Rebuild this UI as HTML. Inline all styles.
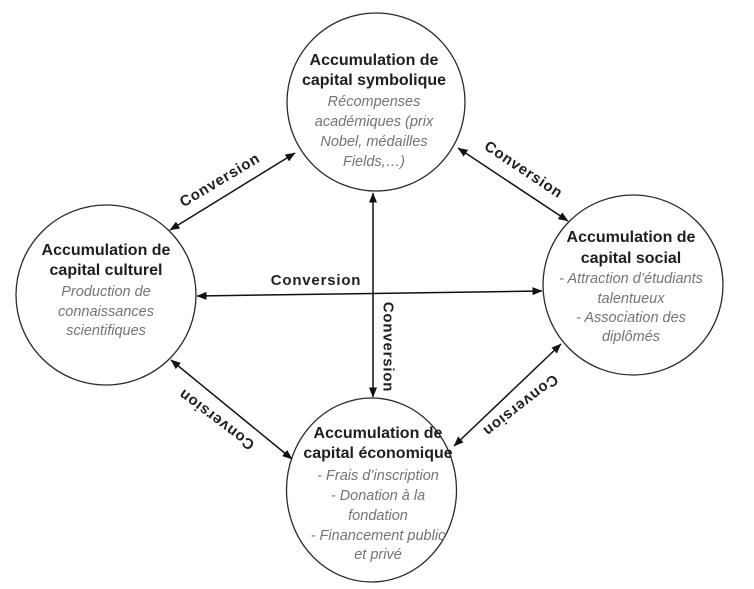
<!DOCTYPE html>
<html>
<head>
<meta charset="utf-8">
<style>
  html, body { margin: 0; padding: 0; background: #ffffff; }
  body { width: 754px; height: 589px; overflow: hidden; }
  svg { display: block; }
  .t { font-family: "Liberation Sans", Arial, sans-serif; font-weight: bold; font-size: 16px; fill: #1e1e1e; }
  .i { font-family: "Liberation Sans", Arial, sans-serif; font-style: italic; font-size: 14.5px; fill: #747474; }
  .c { font-family: "Liberation Sans", Arial, sans-serif; font-weight: bold; font-size: 15px; fill: #1f1f1f; letter-spacing: 0.8px; }
</style>
</head>
<body>
<svg width="754" height="589" viewBox="0 0 754 589" xmlns="http://www.w3.org/2000/svg">
  <defs>
    <marker id="ah" viewBox="0 0 10 8" refX="9.5" refY="4" markerWidth="10" markerHeight="8" markerUnits="userSpaceOnUse" orient="auto-start-reverse">
      <path d="M0,0 L10,4 L0,8 Z" fill="#111"/>
    </marker>
  </defs>

  <!-- circles -->
  <circle cx="376" cy="102" r="89" fill="none" stroke="#2a2a2a" stroke-width="1.3"/>
  <circle cx="106" cy="295" r="90" fill="none" stroke="#2a2a2a" stroke-width="1.3"/>
  <circle cx="633" cy="285" r="90" fill="none" stroke="#2a2a2a" stroke-width="1.3"/>
  <ellipse cx="371.5" cy="490" rx="85" ry="92" fill="none" stroke="#2a2a2a" stroke-width="1.3"/>

  <!-- connectors -->
  <line x1="170" y1="230" x2="295" y2="153" stroke="#111" stroke-width="1.5" marker-start="url(#ah)" marker-end="url(#ah)"/>
  <line x1="458" y1="148" x2="568" y2="221" stroke="#111" stroke-width="1.5" marker-start="url(#ah)" marker-end="url(#ah)"/>
  <line x1="197" y1="296" x2="542" y2="291" stroke="#111" stroke-width="1.5" marker-start="url(#ah)" marker-end="url(#ah)"/>
  <line x1="373" y1="193" x2="373" y2="397" stroke="#111" stroke-width="1.5" marker-start="url(#ah)" marker-end="url(#ah)"/>
  <line x1="171" y1="360" x2="292" y2="459" stroke="#111" stroke-width="1.5" marker-start="url(#ah)" marker-end="url(#ah)"/>
  <line x1="561" y1="344" x2="454" y2="446" stroke="#111" stroke-width="1.5" marker-start="url(#ah)" marker-end="url(#ah)"/>

  <!-- connector labels -->
  <g transform="translate(219.5,179.5) rotate(-31)"><text class="c" x="0" y="5.5" text-anchor="middle">Conversion</text></g>
  <g transform="translate(524,169) rotate(33.7)"><text class="c" x="0" y="5.5" text-anchor="middle">Conversion</text></g>
  <text class="c" x="316" y="285" text-anchor="middle">Conversion</text>
  <g transform="translate(389,347) rotate(90)"><text class="c" x="0" y="5.5" text-anchor="middle">Conversion</text></g>
  <g transform="translate(216,420) rotate(-143)"><text class="c" x="0" y="5.5" text-anchor="middle">Conversion</text></g>
  <g transform="translate(521,406) rotate(142)"><text class="c" x="0" y="5.5" text-anchor="middle">Conversion</text></g>

  <!-- top circle text -->
  <text class="t" x="374" y="65" text-anchor="middle">Accumulation de</text>
  <text class="t" x="374" y="85" text-anchor="middle">capital symbolique</text>
  <text class="i" x="374" y="106" text-anchor="middle">Récompenses</text>
  <text class="i" x="374" y="126" text-anchor="middle">académiques (prix</text>
  <text class="i" x="374" y="146" text-anchor="middle">Nobel, médailles</text>
  <text class="i" x="374" y="166" text-anchor="middle">Fields,…)</text>

  <!-- left circle text -->
  <text class="t" x="106" y="255" text-anchor="middle">Accumulation de</text>
  <text class="t" x="106" y="275" text-anchor="middle">capital culturel</text>
  <text class="i" x="106" y="296" text-anchor="middle">Production de</text>
  <text class="i" x="106" y="316" text-anchor="middle">connaissances</text>
  <text class="i" x="106" y="335" text-anchor="middle">scientifiques</text>

  <!-- right circle text -->
  <text class="t" x="631" y="242" text-anchor="middle">Accumulation de</text>
  <text class="t" x="631" y="263" text-anchor="middle">capital social</text>
  <text class="i" x="631" y="283" text-anchor="middle">- Attraction d’étudiants</text>
  <text class="i" x="631" y="303" text-anchor="middle">talentueux</text>
  <text class="i" x="631" y="322" text-anchor="middle">- Association  des</text>
  <text class="i" x="631" y="341" text-anchor="middle">diplômés</text>

  <!-- bottom circle text -->
  <text class="t" x="378" y="438" text-anchor="middle">Accumulation de</text>
  <text class="t" x="378" y="458" text-anchor="middle">capital économique</text>
  <text class="i" x="378" y="480" text-anchor="middle">- Frais d’inscription</text>
  <text class="i" x="378" y="500" text-anchor="middle">- Donation à la</text>
  <text class="i" x="378" y="520" text-anchor="middle">fondation</text>
  <text class="i" x="378" y="540" text-anchor="middle">- Financement public</text>
  <text class="i" x="378" y="559" text-anchor="middle">et privé</text>
</svg>
</body>
</html>
